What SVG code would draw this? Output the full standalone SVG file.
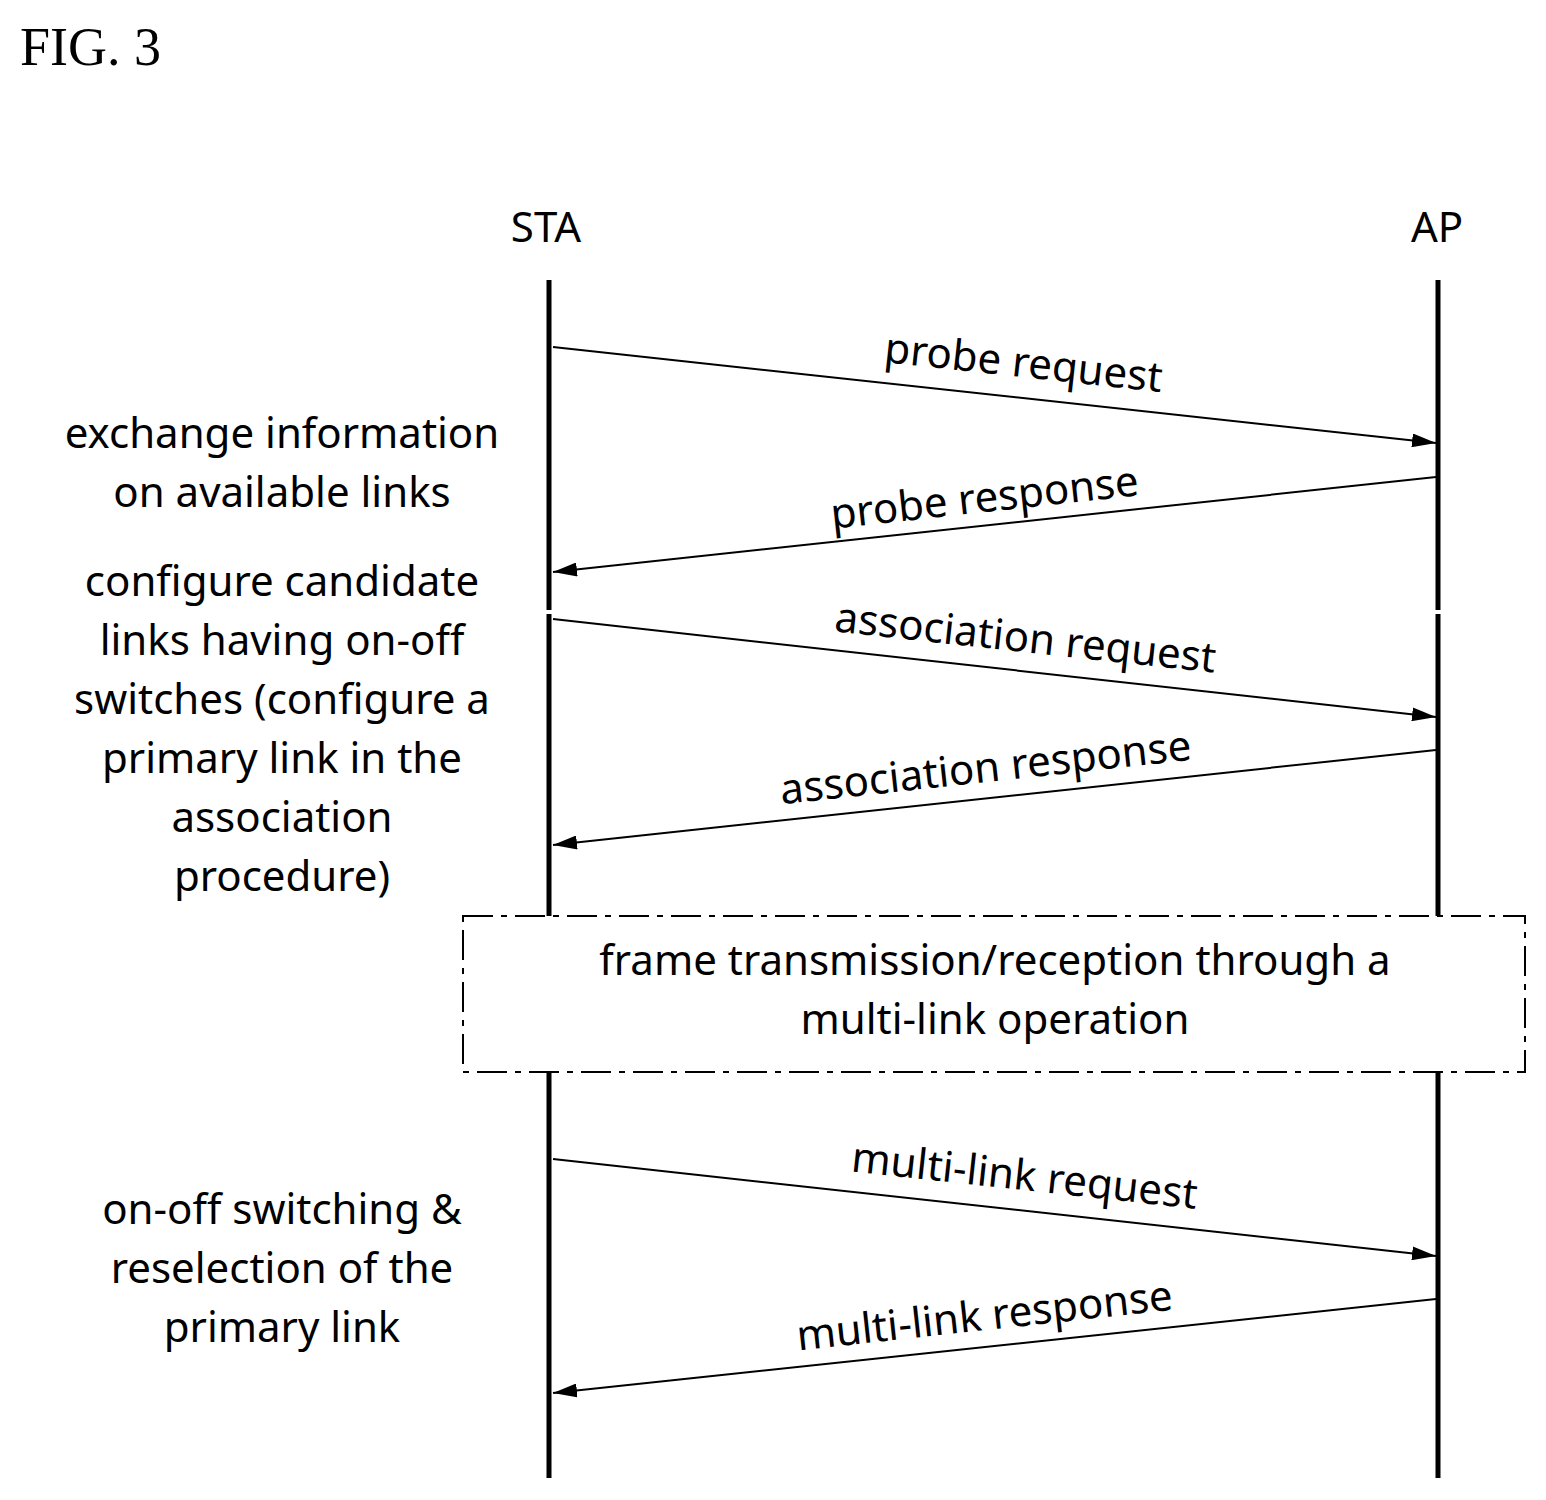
<svg xmlns="http://www.w3.org/2000/svg" width="1546" height="1500" viewBox="0 0 1546 1500">
<defs>
<marker id="ah" markerWidth="24" markerHeight="14" refX="24" refY="7" orient="auto" markerUnits="userSpaceOnUse"><path d="M0,0 L24,7 L0,14 Z" fill="#000"/></marker>
<style>
.t{font-family:"Noto Sans","DejaVu Sans",sans-serif;font-size:42px;fill:#000}
.m{text-anchor:middle}
.life{stroke:#000;stroke-width:5}
.msg{stroke:#000;stroke-width:2;fill:none;marker-end:url(#ah)}
</style>
</defs>
<rect width="1546" height="1500" fill="#fff"/>
<text x="20" y="65" style="font-family:'Liberation Serif',serif;font-size:54px">FIG. 3</text>
<g id="sta"><text class="t m" x="546" y="242">STA</text>
<line class="life" x1="549" y1="280" x2="549" y2="610"/><line class="life" x1="549" y1="614" x2="549" y2="916"/><line class="life" x1="549" y1="1072" x2="549" y2="1478"/></g>
<g id="ap"><text class="t m" x="1437" y="242">AP</text>
<line class="life" x1="1438" y1="280" x2="1438" y2="610"/><line class="life" x1="1438" y1="614" x2="1438" y2="916"/><line class="life" x1="1438" y1="1072" x2="1438" y2="1478"/></g>
<g id="box"><rect x="463" y="916" width="1062" height="156" fill="#fff" stroke="#000" stroke-width="2" stroke-dasharray="30,8,6,8"/>
<text class="t m" x="995" y="975">frame transmission/reception through a</text>
<text class="t m" x="995" y="1034">multi-link operation</text></g>
<g id="notes" class="t m">
<text x="282" y="448">exchange information</text>
<text x="282" y="507">on available links</text>
<text x="282" y="596">configure candidate</text>
<text x="282" y="655">links having on-off</text>
<text x="282" y="714">switches (configure a</text>
<text x="282" y="773">primary link in the</text>
<text x="282" y="832">association</text>
<text x="282" y="891">procedure)</text>
<text x="282" y="1224">on-off switching &amp;</text>
<text x="282" y="1283">reselection of the</text>
<text x="282" y="1342">primary link</text>
</g>
<g id="connectors">
<line class="msg" x1="553" y1="347" x2="1436" y2="443"/>
<line class="msg" x1="1436" y1="477" x2="553" y2="572"/>
<line class="msg" x1="553" y1="619" x2="1436" y2="717"/>
<line class="msg" x1="1436" y1="750" x2="553" y2="845"/>
<line class="msg" x1="553" y1="1159" x2="1436" y2="1256"/>
<line class="msg" x1="1436" y1="1299" x2="553" y2="1393"/>
</g>
<g id="labels" class="t m">
<text transform="translate(1022,377) rotate(6.2)">probe request</text>
<text transform="translate(986,512) rotate(-6.2)">probe response</text>
<text transform="translate(1024,652) rotate(6.2)">association request</text>
<text transform="translate(987,782) rotate(-6.2)">association response</text>
<text transform="translate(1023,1190) rotate(6.2)">multi-link request</text>
<text transform="translate(986,1330) rotate(-6.2)">multi-link response</text>
</g>
</svg>
